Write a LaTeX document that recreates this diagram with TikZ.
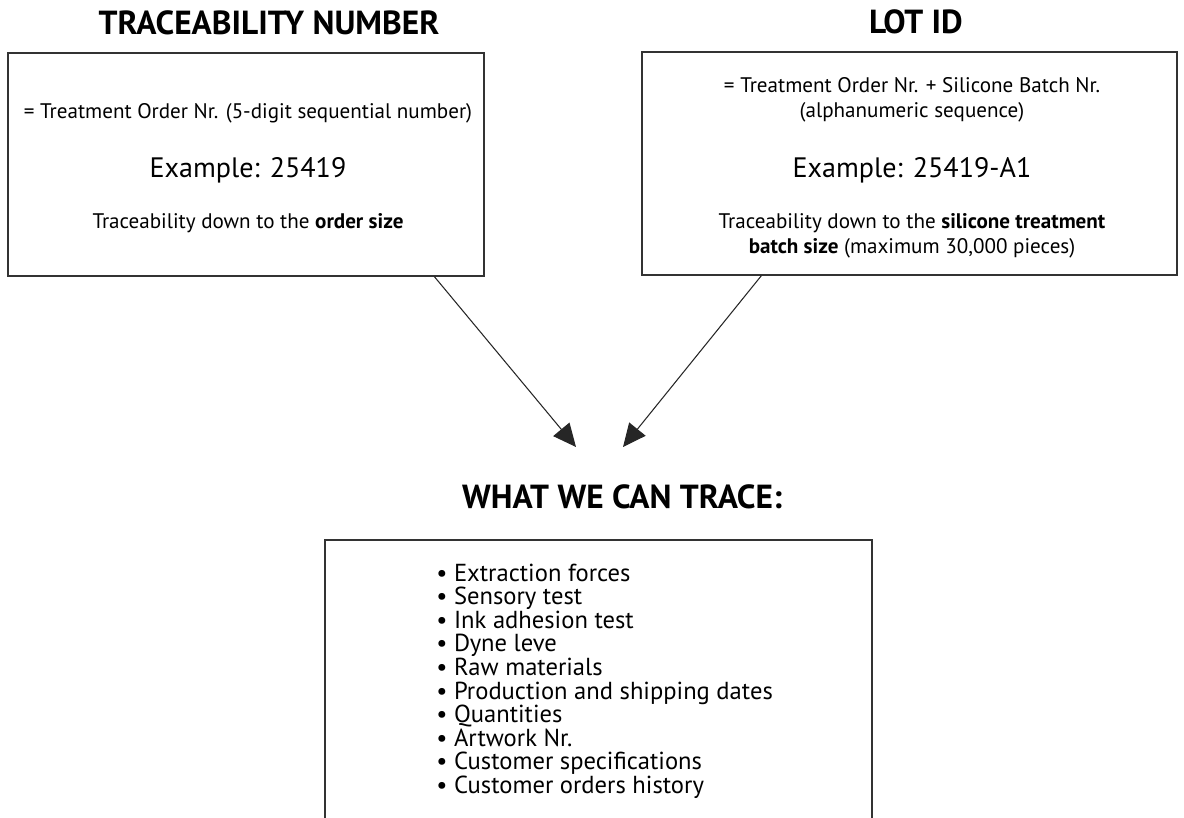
\documentclass[tikz,border=0pt]{standalone}
\usepackage{fontspec}
\setmainfont{PT Sans}
\usetikzlibrary{arrows.meta}

\tikzset{
  panel/.style={draw=black!80, line width=0.7pt, inner sep=0pt},
  title/.style={anchor=base, font=\fontsize{19}{22}\selectfont\bfseries},
  body/.style={anchor=base, font=\fontsize{12}{14}\selectfont},
  example/.style={anchor=base, font=\fontsize{16}{19}\selectfont},
  item/.style={anchor=base west, inner sep=0pt, font=\fontsize{14}{16}\selectfont},
  link/.style={line width=0.6pt, draw=black!85, -{Triangle[length=0.46cm,width=0.42cm]}}
}

\begin{document}
\begin{tikzpicture}[x=0.02cm, y=-0.02cm]

\useasboundingbox (0,0) rectangle (1184,818);

% upper boxes
\node[title] (tntitle) at (269,34) {TRACEABILITY NUMBER};
\node[panel, minimum width=9.52cm, minimum height=4.46cm] (tnbox) at (246,164.5) {};
\node[body] (tndef) at (248,118) {= Treatment Order Nr. (5-digit sequential number)};
\node[example] (tnex) at (248,177) {Example: 25419};
\node[body] (tnsize) at (248,228) {Traceability down to the \textbf{order size}};

\node[title] (lottitle) at (916,33) {LOT ID};
\node[panel, minimum width=10.7cm, minimum height=4.46cm] (lotbox) at (909.5,163.5) {};
\node[body] (lotdef) at (912,92) {= Treatment Order Nr. + Silicone Batch Nr.};
\node[body] (lotseq) at (912,117) {(alphanumeric sequence)};
\node[example] (lotex) at (912,177) {Example: 25419-A1};
\node[body] (lotsize) at (912,228) {Traceability down to the \textbf{silicone treatment}};
\node[body] (lotmax) at (912,253) {\textbf{batch size} (maximum 30,000 pieces)};

% arrows
\coordinate (tipL) at (576,447);
\coordinate (tipR) at (623,447);
\draw[link] ([xshift=8.54cm]tnbox.south west) -- (tipL);
\draw[link] ([xshift=2.4cm]lotbox.south west) -- (tipR);

% lower box
\node[title] (whattitle) at (622,508) {WHAT WE CAN TRACE:};
\draw[panel] (325,818) |- (872,540) -- (872,818);
\node[item] (it1) at (436,581) {\textbullet\ Extraction forces};
\node[item] (it2) at (436,604.6) {\textbullet\ Sensory test};
\node[item] (it3) at (436,628.2) {\textbullet\ Ink adhesion test};
\node[item] (it4) at (436,651.8) {\textbullet\ Dyne leve};
\node[item] (it5) at (436,675.4) {\textbullet\ Raw materials};
\node[item] (it6) at (436,699) {\textbullet\ Production and shipping dates};
\node[item] (it7) at (436,722.6) {\textbullet\ Quantities};
\node[item] (it8) at (436,746.2) {\textbullet\ Artwork Nr.};
\node[item] (it9) at (436,769.8) {\textbullet\ Customer specifications};
\node[item] (it10) at (436,793.4) {\textbullet\ Customer orders history};

\end{tikzpicture}
\end{document}
